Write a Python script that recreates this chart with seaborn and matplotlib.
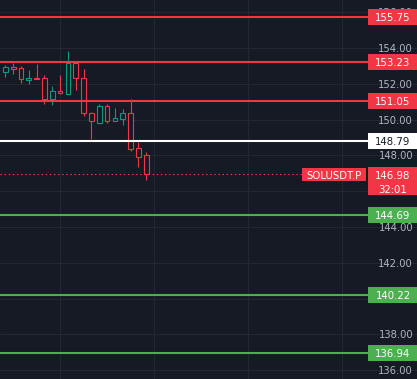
#!/usr/bin/env python3

import pandas as pd
import seaborn as sns
import matplotlib.pyplot as plt
from matplotlib.patches import Rectangle
from matplotlib.transforms import blended_transform_factory

# candles (SOLUSDT.P)
opens = [152.68, 152.94, 152.86, 152.23, 152.32, 152.31, 151.17, 151.58, 151.45, 153.16,
         152.32, 150.37, 149.83, 150.76, 149.94, 150.05, 150.37, 148.41, 148.00]
highs = [153.05, 153.14, 153.00, 152.77, 153.11, 152.49, 151.88, 152.49, 153.83, 153.18,
         152.83, 150.44, 150.89, 150.89, 150.65, 150.59, 151.15, 148.75, 148.19]
lows = [152.40, 152.53, 152.06, 152.01, 152.25, 150.89, 150.83, 151.45, 151.45, 151.65,
        150.20, 148.92, 149.75, 149.81, 149.94, 149.72, 148.26, 147.37, 146.64]
closes = [152.92, 152.85, 152.25, 152.32, 152.27, 151.15, 151.60, 151.47, 153.16, 152.31,
          150.39, 149.90, 150.76, 149.94, 150.07, 150.37, 148.38, 147.93, 146.98]

resistances = [155.75, 153.23, 151.05]
pivot = 148.79
supports = [144.69, 140.22, 136.94]
last_price = 146.98
countdown = "32:01"
symbol = "SOLUSDT.P"
price_ticks = [136, 138, 140, 142, 144, 146, 148, 150, 152, 154, 156]
# 140 and 146 sit under the price tags, so no label is visible for them
labelled_ticks = [136, 138, 142, 144, 148, 150, 152, 154, 156]

BG = "#161a25"
GRID = "#242733"
TICK = "#b2b5be"
UP = "#089981"
DOWN = "#f23645"
RED = "#f23645"
GREEN = "#4caf50"

W, H = 417, 379
YMIN, YMAX = 135.51, 156.68
PX = (YMAX - YMIN) / H  # price per pixel

df = pd.DataFrame({'open': opens, 'high': highs, 'low': lows, 'close': closes})
df['i'] = range(len(df))
df['up'] = df['close'] >= df['open']

sns.set_theme(style="dark", rc={
    "axes.facecolor": BG,
    "figure.facecolor": BG,
    "grid.color": GRID,
    "font.family": "DejaVu Sans",
})

fig = plt.figure(figsize=(W / 100, H / 100), dpi=100)
ax = fig.add_axes([0, 0, 1, 1])
ax.set_xlim(-0.68, 52.58)
ax.set_ylim(YMIN, YMAX)
for s in ax.spines.values():
    s.set_visible(False)
ax.set_xticks([7, 19, 31, 43])
ax.set_yticks(price_ticks)
ax.grid(True, color=GRID, linewidth=0.8)
ax.tick_params(length=0, labelbottom=False, labelleft=False)

# candles: wicks then hollow bodies
colors = [UP if u else DOWN for u in df['up']]
ax.vlines(df['i'], df['low'], df['high'], colors=colors, linewidth=0.8, zorder=2)
bottoms = df[['open', 'close']].min(axis=1)
heights = (df['close'] - df['open']).abs().clip(lower=0.02)
ax.bar(df['i'], heights, bottom=bottoms, width=0.6, facecolor=BG,
       edgecolor=colors, linewidth=0.8, zorder=3)

trans = blended_transform_factory(ax.transAxes, ax.transData)
box_x0 = 368 / W
line_end = box_x0

for lvl in resistances:
    ax.axhline(lvl, xmin=0, xmax=line_end, color=RED, linewidth=1.5, zorder=4)
for lvl in supports:
    ax.axhline(lvl, xmin=0, xmax=line_end, color=GREEN, linewidth=1.5, zorder=4)
ax.axhline(pivot, xmin=0, xmax=line_end, color="white", linewidth=1.5, zorder=4)
ax.axhline(last_price, xmin=0, xmax=302 / W, color=RED, linewidth=0.8,
           linestyle=(0, (1.3, 2.4)), zorder=4)

# price scale labels
for t in labelled_ticks:
    ax.text(413 / W, t, f"{t:.2f}", transform=trans, ha="right", va="center_baseline",
            color=TICK, fontsize=7.2, zorder=5)


def tag(y, text, face, fg="white"):
    h = 16 * PX
    ax.add_patch(Rectangle((box_x0, y - h / 2), 1 - box_x0, h, transform=trans,
                           facecolor=face, linewidth=0, zorder=6, clip_on=False))
    ax.text(393 / W, y, text, transform=trans, ha="center", va="center_baseline",
            color=fg, fontsize=7.3, zorder=7)


for lvl in resistances:
    tag(lvl, f"{lvl:.2f}", RED)
for lvl in supports:
    tag(lvl, f"{lvl:.2f}", GREEN)
tag(pivot, f"{pivot:.2f}", "white", fg="#131722")

# last price box with countdown
ax.add_patch(Rectangle((box_x0, last_price - 21 * PX), 1 - box_x0, 28 * PX,
                       transform=trans, facecolor=RED, linewidth=0, zorder=6))
ax.text(393 / W, last_price - 1 * PX, f"{last_price:.2f}", transform=trans, ha="center",
        va="center_baseline", color="white", fontsize=7.3, zorder=7)
ax.text(393 / W, last_price - 15 * PX, countdown, transform=trans, ha="center",
        va="center_baseline", color="white", fontsize=7.3, zorder=7)

# symbol tag
ax.add_patch(Rectangle((302 / W, last_price - 7.5 * PX), 64 / W, 13 * PX,
                       transform=trans, facecolor=RED, linewidth=0, zorder=6))
ax.text(334 / W, last_price - 1 * PX, symbol, transform=trans, ha="center",
        va="center_baseline", color="white", fontsize=7.3, zorder=7)

fig.savefig('out.png', dpi=100, facecolor=BG)
